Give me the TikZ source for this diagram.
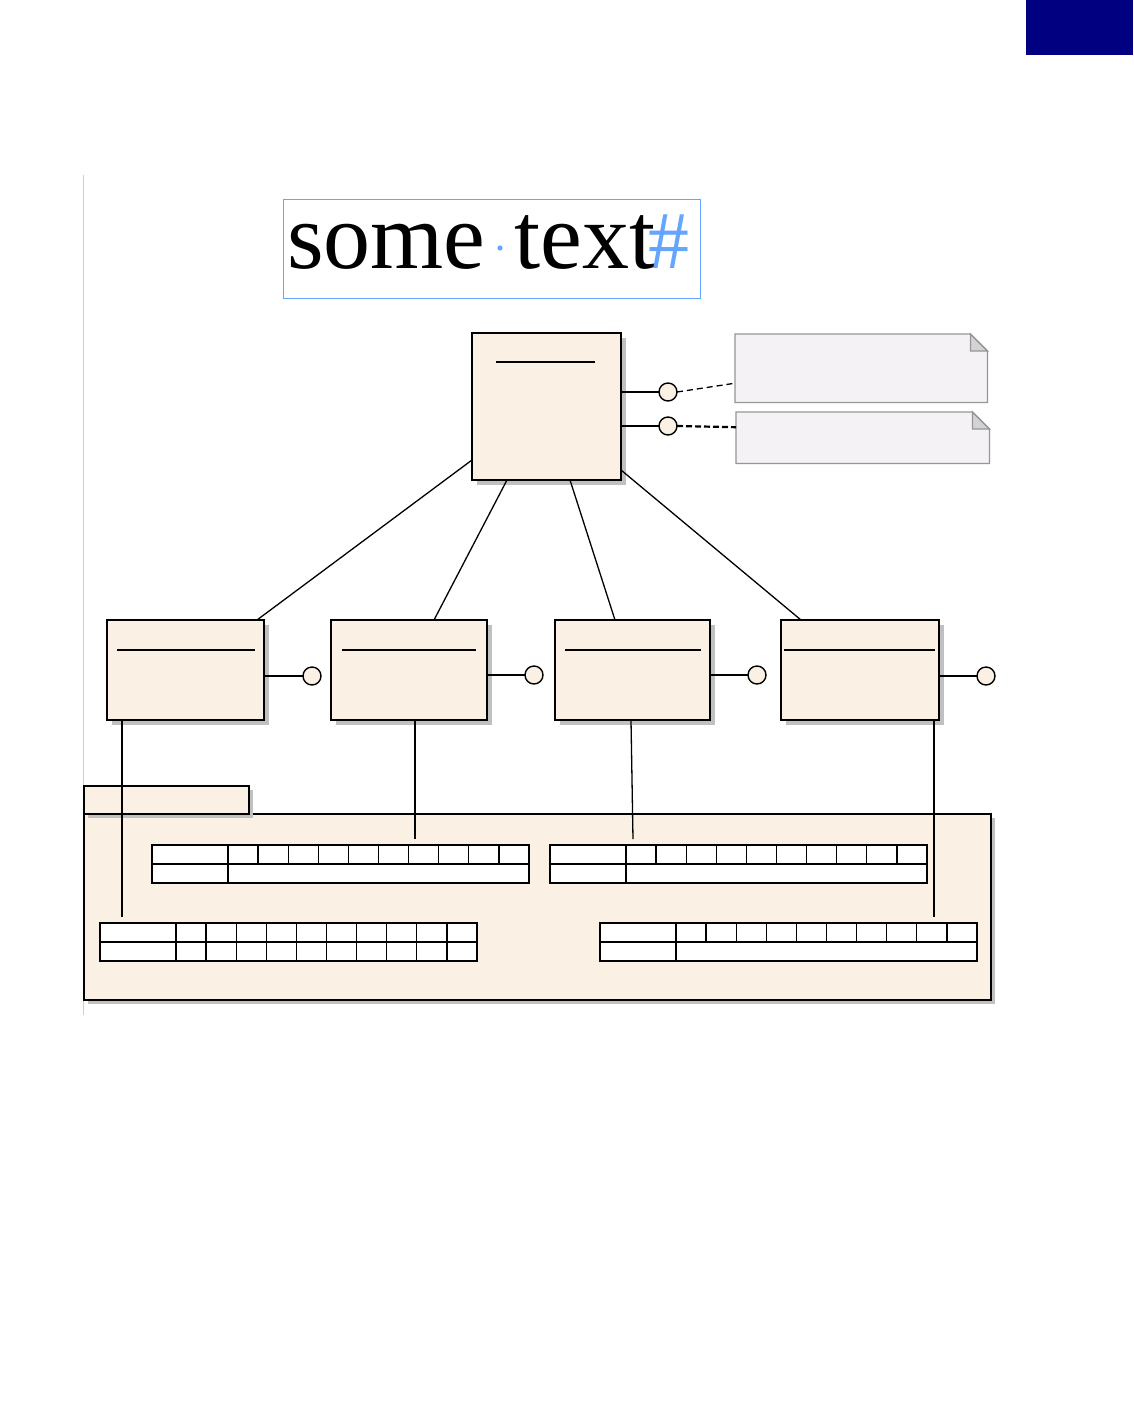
\documentclass[tikz,border=0pt]{standalone}
\usepackage{fontspec}
\setmainfont{Liberation Serif}
\usetikzlibrary{shadows,calc}
\definecolor{cream}{RGB}{250,240,227}
\definecolor{shade}{RGB}{192,192,192}
\definecolor{notefill}{RGB}{245,242,246}
\definecolor{notefold}{RGB}{212,210,214}
\definecolor{noteline}{RGB}{150,150,150}
\definecolor{selblue}{RGB}{100,165,255}
\definecolor{navyblk}{RGB}{0,0,128}
\definecolor{marginline}{RGB}{205,205,205}
\newcommand\regtable[4]{% name, x, y, merged second row (1) or not (0)
  \node[tbl, anchor=north west] (#1) at (#2,#3) {};
  \pgfmathsetmacro\rowend{#4==1 ? 19 : 38}
  \draw[tline] (#2,#3+19) -- (#2+377,#3+19);
  \draw[tline] (#2+76,#3) -- (#2+76,#3+38);
  \foreach \k in {1,...,9} \draw[tline] (#2+76+\k*30.1,#3) -- (#2+76+\k*30.1,#3+\rowend);
}
\begin{document}
\begin{tikzpicture}[x=1pt,y=-1pt,
  cls/.style={draw, line width=2.2pt, fill=cream, inner sep=0, outer sep=0,
    drop shadow={shadow xshift=5pt, shadow yshift=-5pt, fill=shade, opacity=1}},
  pkg/.style={draw, line width=2.2pt, fill=cream, inner sep=0, outer sep=0,
    drop shadow={shadow xshift=4pt, shadow yshift=-4pt, fill=shade, opacity=1}},
  tbl/.style={draw, line width=1.4pt, fill=white, inner sep=0, outer sep=0, minimum width=377pt, minimum height=38pt},
  tline/.style={line width=1.3pt},
  lolli/.style={circle, draw, line width=1.4pt, fill=cream, minimum size=18pt, inner sep=0, outer sep=0},
  conn/.style={line width=1.3pt},
  thickconn/.style={line width=2.2pt},
  notebody/.style={draw=noteline, line width=1.3pt, fill=notefill},
  notefoldst/.style={draw=noteline, line width=1.3pt, fill=notefold},
]
\fill[white] (0,0) rectangle (1133,1414);
\useasboundingbox (0,0) rectangle (1133,1414);

% navy corner block
\fill[navyblk] (1026,0) rectangle (1133,55);
% margin rule
\draw[marginline, line width=1pt] (83,175) -- (83,1015);

% selected text box
\node[draw=selblue, line width=1.4pt, minimum width=417pt, minimum height=99pt, inner sep=0, anchor=north west] (tbox) at (283,199) {};
\node[anchor=base west, inner sep=0, font=\fontsize{94}{100}\selectfont] (w1) at (287,268) {some};
\node[anchor=base west, inner sep=0, font=\fontsize{94}{100}\selectfont] (w2) at (514,268) {text};
\fill[selblue] (500,248) circle (2.6);
\node[anchor=base west, inner sep=0, text=selblue, font=\fontsize{82}{90}\selectfont] (hash) at (648,268) {\#};

% main class
\node[cls, minimum width=149pt, minimum height=147pt] (main) at (546.5,406.5) {};
\draw[conn] ($(main.north west)+(24,29)$) -- ($(main.north east)+(-26,29)$);

% lower classes
\node[cls, minimum width=157pt, minimum height=100pt] (b1) at (185.5,670) {};
\node[cls, minimum width=156pt, minimum height=100pt] (b2) at (409,670) {};
\node[cls, minimum width=155pt, minimum height=100pt] (b3) at (632.5,670) {};
\node[cls, minimum width=158pt, minimum height=100pt] (b4) at (860,670) {};
\draw[conn] ($(b1.north west)+(10,30)$) -- ($(b1.north east)+(-9,30)$);
\draw[conn] ($(b2.north west)+(11,30)$) -- ($(b2.north east)+(-11,30)$);
\draw[conn] ($(b3.north west)+(10,30)$) -- ($(b3.north east)+(-9,30)$);
\draw[conn] ($(b4.north west)+(3,30)$) -- ($(b4.north east)+(-4,30)$);

% connectors main -> lower
\draw[conn] ($(main.west)+(0,53.5)$) -- ($(b1.north)+(71.5,0)$);
\draw[conn] ($(main.south)+(-39.5,0)$) -- ($(b2.north)+(25,0)$);
\draw[conn] ($(main.south)+(23.5,0)$) -- ($(b3.north)+(-17.5,0)$);
\draw[conn] ($(main.east)+(0,63.5)$) -- ($(b4.north)+(-59,0)$);

% interfaces of main
\node[lolli] (c1) at (668,392) {};
\node[lolli] (c2) at (668,426) {};
\draw[conn] ($(main.east)+(0,-14.5)$) -- (c1.west);
\draw[conn] ($(main.east)+(0,19.5)$) -- (c2.west);

% notes
\node[minimum width=252pt, minimum height=68pt, inner sep=0, anchor=north west] (n1) at (735,334) {};
\node[minimum width=253pt, minimum height=51pt, inner sep=0, anchor=north west] (n2) at (736,412) {};
\draw[notebody] (n1.north west) -- ($(n1.north east)+(-17,0)$) -- ($(n1.north east)+(0,17)$) -- (n1.south east) -- (n1.south west) -- cycle;
\draw[notefoldst] ($(n1.north east)+(-17,0)$) -- ($(n1.north east)+(-17,17)$) -- ($(n1.north east)+(0,17)$) -- cycle;
\draw[notebody] (n2.north west) -- ($(n2.north east)+(-17,0)$) -- ($(n2.north east)+(0,17)$) -- (n2.south east) -- (n2.south west) -- cycle;
\draw[notefoldst] ($(n2.north east)+(-17,0)$) -- ($(n2.north east)+(-17,17)$) -- ($(n2.north east)+(0,17)$) -- cycle;
\draw[line width=1.3pt, dash pattern=on 6pt off 4pt] (c1.east) -- ($(n1.west)+(0,15)$);
\draw[line width=2.2pt, dash pattern=on 6pt off 3pt] (c2.east) -- ($(n2.west)+(0,-10.5)$);

% interfaces of lower classes
\node[lolli] (i1) at (312,676) {};
\node[lolli] (i2) at (534,675) {};
\node[lolli] (i3) at (757,675) {};
\node[lolli] (i4) at (986,676) {};
\draw[conn] (b1.east |- i1) -- (i1.west);
\draw[thickconn] (b2.east |- i2) -- (i2.west);
\draw[thickconn] (b3.east |- i3) -- (i3.west);
\draw[conn] (b4.east |- i4) -- (i4.west);

% package
\node[pkg, minimum width=907pt, minimum height=186pt, anchor=north west] (pbody) at (84,814) {};
\node[pkg, minimum width=165pt, minimum height=28pt, anchor=north west] (ptab) at (84,786) {};

% tables
\regtable{t1}{152}{845}{1}
\regtable{t2}{550}{845}{1}
\regtable{t3}{100}{923}{0}
\regtable{t4}{600}{923}{1}

% vertical links from classes into package
\coordinate (e1) at (122,917);
\coordinate (e2) at (415,839);
\coordinate (e3) at (633,839);
\coordinate (e4) at (934,917);
\draw[thickconn] (b1.south -| e1) -- (e1);
\draw[thickconn] (b2.south -| e2) -- (e2);
\draw[conn] ($(b3.south)+(-1.5,0)$) -- (e3);
\draw[thickconn] (b4.south -| e4) -- (e4);
\end{tikzpicture}
\end{document}
